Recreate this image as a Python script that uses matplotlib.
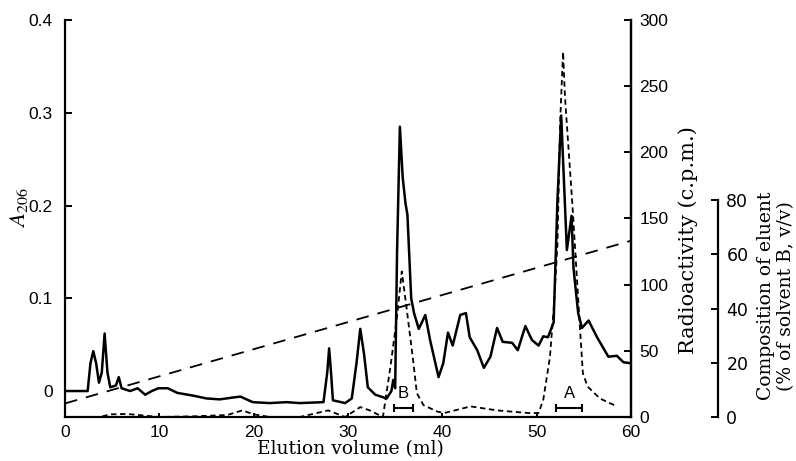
"""HPLC elution profile: A206, radioactivity and solvent gradient."""

import matplotlib
matplotlib.use("Agg")
import matplotlib.pyplot as plt

# absorbance at 206 nm (left axis)
abs_ml = [0, 2.4, 2.7, 3.0, 3.3, 3.6, 3.9, 4.2, 4.5, 4.8, 5.4, 5.7, 6.0, 6.9, 7.7,
          8.5, 9.2, 9.9, 10.9, 11.9, 13.6, 15.0, 16.4, 17.8, 18.6, 19.9, 21.7, 23.5,
          24.9, 27.4, 27.8, 28.0, 28.2, 28.4, 29.7, 30.4, 30.9, 31.3, 31.7, 32.1,
          32.9, 34.1, 34.6, 34.8, 35.0, 35.2, 35.5, 35.8, 36.1, 36.3, 36.7, 37.0,
          37.5, 38.2, 38.7, 39.6, 40.1, 40.6, 41.1, 41.9, 42.5, 42.9, 43.7, 44.4,
          45.1, 45.8, 46.4, 47.4, 48.0, 48.8, 49.5, 50.2, 50.7, 51.2, 51.8, 52.2,
          52.6, 53.2, 53.7, 53.9, 54.4, 54.8, 55.5, 56.4, 57.6, 58.5, 59.2, 60]
abs_206 = [0.0, 0.0, 0.03, 0.043, 0.03, 0.009, 0.02, 0.062, 0.02, 0.004, 0.006,
           0.015, 0.003, 0.0, 0.003, -0.004, 0.0, 0.003, 0.003, -0.002, -0.005,
           -0.008, -0.009, -0.007, -0.006, -0.012, -0.013, -0.012, -0.013, -0.012,
           0.02, 0.046, 0.02, -0.01, -0.013, -0.008, 0.03, 0.067, 0.04, 0.004,
           -0.004, -0.008, 0.0, 0.012, 0.003, 0.15, 0.285, 0.23, 0.202, 0.19, 0.10,
           0.084, 0.067, 0.082, 0.055, 0.015, 0.03, 0.063, 0.049, 0.082, 0.084,
           0.058, 0.044, 0.025, 0.037, 0.068, 0.053, 0.052, 0.044, 0.070, 0.055,
           0.049, 0.059, 0.058, 0.074, 0.205, 0.297, 0.152, 0.189, 0.133, 0.084,
           0.068, 0.076, 0.058, 0.037, 0.038, 0.031, 0.030]

# radioactivity, c.p.m. (right axis)
rad_ml = [3.0, 3.7, 4.8, 6.6, 10.0, 13.6, 17.2, 18.8, 20.0, 21.7, 24.9, 27.9, 29.7,
          31.3, 32.3, 33.7, 34.5, 35.2, 35.7, 36.2, 36.9, 37.3, 38.0, 39.5, 40.2,
          43.0, 45.8, 49.1, 50.2, 50.7, 51.4, 51.8, 52.2, 52.5, 52.8, 53.0, 53.8,
          54.3, 54.6, 54.9, 55.4, 56.7, 58.5]
cpm = [0, 0, 2, 2.3, 0, 0.5, 1.5, 5, 2, 0, 0, 5, 0, 7.5, 5, 0, 38, 76, 110, 83,
       43, 18, 9, 4, 3, 8, 5, 3, 3, 13, 45, 81, 130, 225, 276, 242, 159, 101, 66,
       33, 23, 14, 8]

# linear gradient, % solvent B
grad_ml = [0, 60]
grad_pct = [5, 65]

# pooled fractions
pool_labels = ["B", "A"]
pool_start = [34.9, 52.1]
pool_end = [36.9, 54.8]
pool_level = 7

SANS = "Liberation Sans"
SERIF = "DejaVu Serif"
plt.rcParams["mathtext.fontset"] = "stix"

fig = plt.figure(figsize=(7.96, 4.61), dpi=100)
ax = fig.add_axes([65 / 796, 44 / 461, 566 / 796, 397 / 461])
ax2 = ax.twinx()
ax3 = ax.twinx()

ax.plot(abs_ml, abs_206, color="black", lw=1.8, zorder=3)
ax2.plot(rad_ml, cpm, color="black", lw=1.3, linestyle=(0, (3, 2)))
ax3.plot(grad_ml, grad_pct, color="black", lw=1.3, linestyle=(0, (7, 5)))

for lab, a, b in zip(pool_labels, pool_start, pool_end):
    mid = (a + b) / 2
    ax2.errorbar(mid, pool_level, xerr=(b - a) / 2, color="black", lw=1.5,
                 capsize=3, capthick=1.5)
    ax2.text(mid, pool_level + 5, lab, ha="center", va="bottom",
             fontsize=12, family=SANS)

ax.set_xlim(0, 60)
ax.set_ylim(-0.028, 0.4)
ax2.set_ylim(0, 300)
ax3.set_ylim(0, 146.4)

ax.set_xticks(range(0, 61, 10))
ax.set_yticks([0, 0.1, 0.2, 0.3, 0.4])
ax.set_yticklabels(["0", "0.1", "0.2", "0.3", "0.4"])
ax2.set_yticks(range(0, 301, 50))
ax3.set_yticks(range(0, 81, 20))

for a in (ax, ax2, ax3):
    a.spines["top"].set_visible(False)
    for sp in a.spines.values():
        sp.set_linewidth(1.6)
    a.tick_params(direction="in", length=5, width=1.4, labelsize=12.5, pad=6)
    for t in a.get_xticklabels() + a.get_yticklabels():
        t.set_family(SANS)
ax.tick_params(axis="x", length=3, pad=6)
ax.tick_params(axis="y", pad=9)
ax2.spines["left"].set_visible(False)
ax3.spines["left"].set_visible(False)
ax2.spines["bottom"].set_visible(False)
ax3.spines["bottom"].set_visible(False)
ax3.spines["right"].set_position(("axes", (718 - 65) / 566))
ax3.spines["right"].set_bounds(0, 80)

fig.text(350 / 796, 1 - 449 / 461, "Elution volume (ml)", family=SERIF,
         fontsize=13.5, ha="center", va="center")
fig.text(19 / 796, 1 - 208 / 461, r"$\mathit{A}_{206}$", fontsize=16.5,
         rotation=90, ha="center", va="center")
fig.text(688 / 796, 1 - 240 / 461, "Radioactivity (c.p.m.)", family=SERIF,
         fontsize=15, rotation=90, ha="center", va="center")
fig.text(776 / 796, 1 - 296 / 461, "Composition of eluent\n(% of solvent B, v/v)",
         family=SERIF, fontsize=13.5, rotation=90, ha="center", va="center",
         linespacing=1.15, multialignment="center")

fig.savefig("out.png", dpi=100)
